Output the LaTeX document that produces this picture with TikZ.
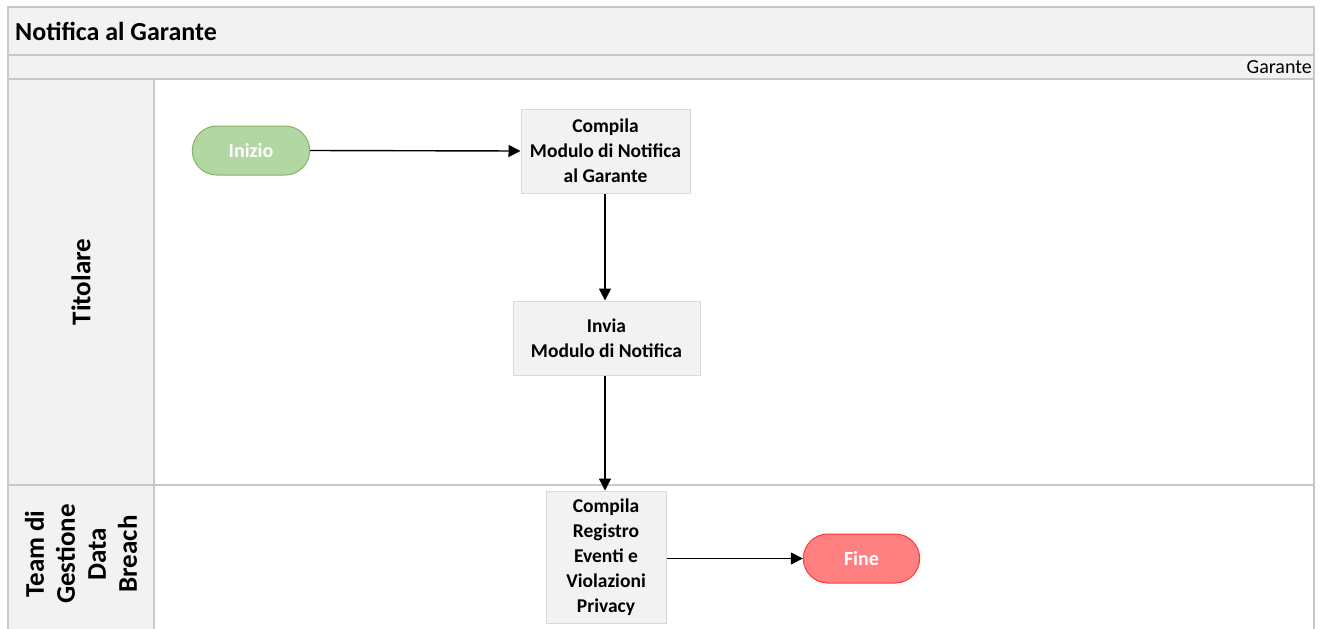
\documentclass[tikz,border=0pt]{standalone}
\usepackage{fontspec}
\setmainfont{Carlito}
\usetikzlibrary{arrows.meta,shapes.misc}
\definecolor{laneline}{HTML}{C8C8C8}
\definecolor{headfill}{HTML}{F2F2F2}
\definecolor{boxline}{HTML}{D9D9D9}
\definecolor{startfill}{HTML}{B3D7A3}
\definecolor{startline}{HTML}{82B366}
\definecolor{endfill}{HTML}{FF8080}
\definecolor{endline}{HTML}{FF3838}
\tikzset{
  x=1pt, y=-1pt,
  lane/.style={draw=laneline, line width=1.2pt},
  stepbox/.style={draw=boxline, fill=headfill, line width=1pt, align=center,
    font=\fontsize{19.5}{25}\selectfont\bfseries, inner sep=0pt},
  terminal/.style={rounded rectangle, line width=1pt, minimum width=124pt,
    minimum height=49pt, font=\fontsize{20}{24}\selectfont\bfseries, text=white},
  flow/.style={-{Triangle[length=12pt,width=12pt]}, line width=1.4pt, black},
  lanelabel/.style={rotate=90, align=center, font=\fontsize{27}{31}\selectfont\bfseries}
}
\begin{document}
\begin{tikzpicture}
\useasboundingbox (0,0) rectangle (1320,629);
\fill[white] (0,0) rectangle (1320,629);
% header bands and lane frames
\fill[headfill] (8,7) rectangle (1314,79);
\fill[headfill] (8,79) rectangle (154,640);
\draw[lane] (8,640) -- (8,7) -- (1314,7) -- (1314,640);
\draw[lane] (8,55) -- (1314,55);
\draw[lane] (8,79) -- (1314,79);
\draw[lane] (154,79) -- (154,640);
\draw[lane] (8,485) -- (1314,485);
\node[anchor=west, font=\fontsize{26}{30}\selectfont\bfseries, inner sep=0pt] (title) at (15,31) {Notifica al Garante};
\node[anchor=east, font=\fontsize{20}{24}\selectfont, inner sep=0pt] (col) at (1312,67) {Garante};
\node[lanelabel] (lane1) at (81,282) {Titolare};
\node[lanelabel] (lane2) at (81,554) {Team di\\Gestione\\Data\\Breach};
% process steps
\node[terminal, draw=startline, fill=startfill] (start) at (251,150.5) {Inizio};
\node[stepbox, minimum width=169pt, minimum height=84pt] (s1) at (605.5,151) {Compila\\Modulo di Notifica\\al Garante};
\node[stepbox, minimum width=187pt, minimum height=74pt] (s2) at (606.5,338) {Invia\\Modulo di Notifica};
\node[stepbox, minimum width=120pt, minimum height=132pt] (s3) at (606,557) {Compila\\Registro\\Eventi e\\Violazioni\\Privacy};
\node[terminal, draw=endline, fill=endfill, minimum width=123pt] (end) at (861.5,558.5) {Fine};
% connectors
\draw[flow] (start.east) -- (s1.west);
\draw[flow] (s1.south -| 605,0) -- (s2.north -| 605,0);
\draw[flow] (s2.south -| 605,0) -- (s3.north -| 605,0);
\draw[flow] (s3.east |- end.west) -- (end.west);
\end{tikzpicture}
\end{document}
